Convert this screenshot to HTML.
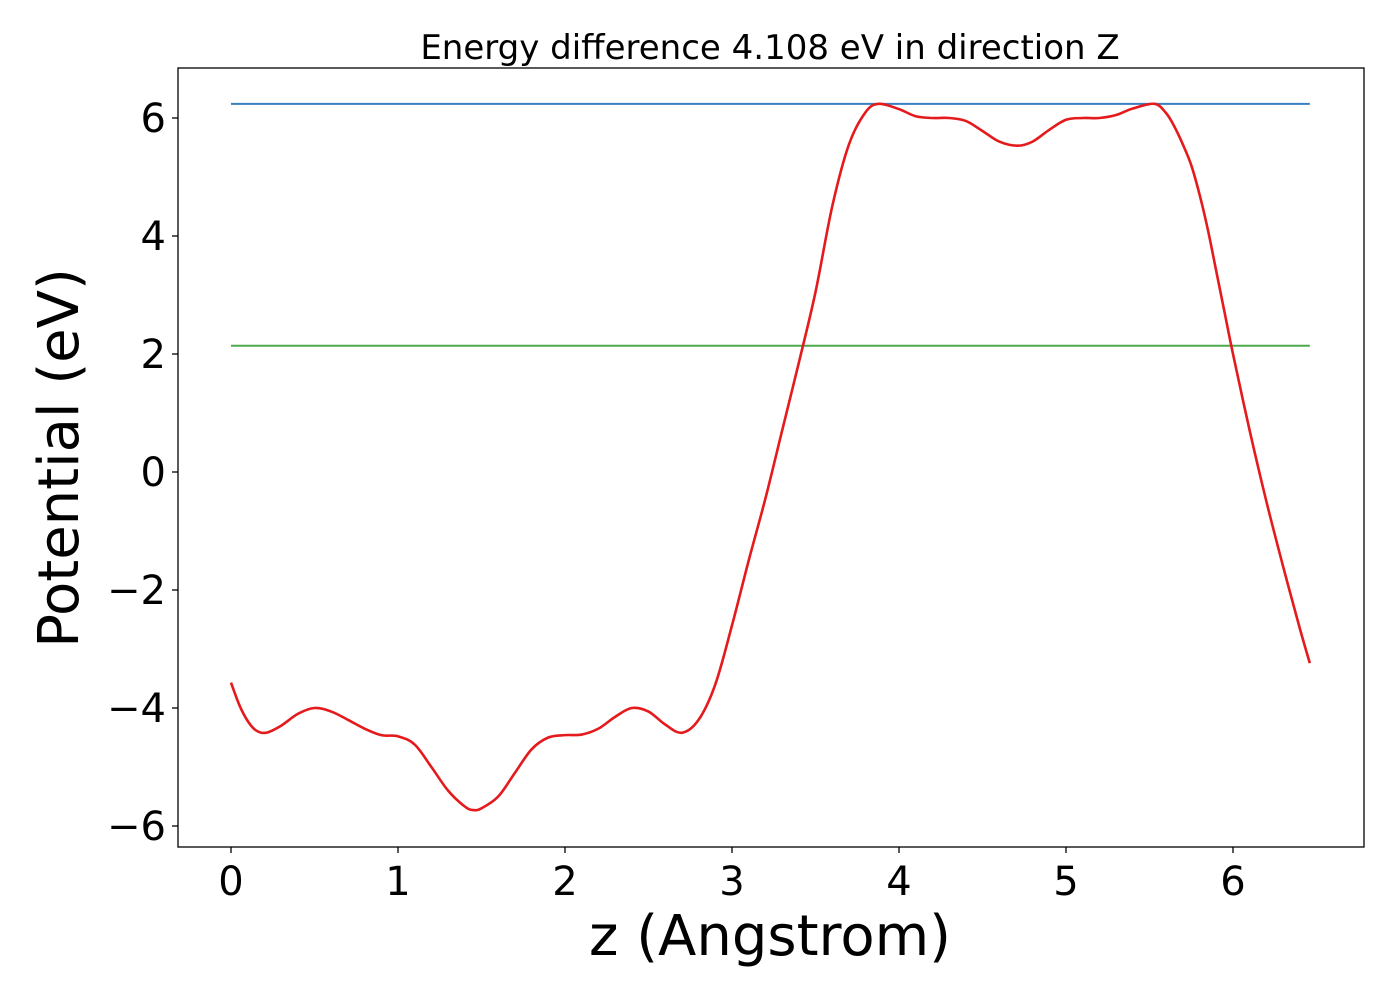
<!DOCTYPE html>
<html><head><meta charset="utf-8"><style>
body{margin:0;background:#fff;}
svg text{font-family:"DejaVu Sans","Liberation Sans",sans-serif;fill:#000;}
</style></head><body>
<svg id="chart" width="1400" height="1000" xmlns="http://www.w3.org/2000/svg">
<text x="770" y="59" font-size="34" text-anchor="middle">Energy difference 4.108 eV in direction Z</text>
<g id="ticks"></g>
<g id="lines"></g>
<rect x="178" y="68" width="1186" height="779" fill="none" stroke="#000" stroke-width="1.3"/>
<text x="770" y="955" font-size="56" text-anchor="middle">z (Angstrom)</text>
<text transform="translate(78,458) rotate(-90)" font-size="56" text-anchor="middle">Potential (eV)</text>
</svg>
<script>
const zVals=[0,0.05,0.1,0.15,0.21,0.3,0.4,0.5,0.6,0.7,0.8,0.9,1.0,1.1,1.2,1.3,1.4,1.45,1.5,1.6,1.7,1.8,1.9,2.0,2.1,2.2,2.3,2.4,2.5,2.6,2.7,2.8,2.9,3.0,3.1,3.2,3.3,3.4,3.5,3.6,3.7,3.8,3.88,4.0,4.1,4.2,4.3,4.4,4.5,4.6,4.71,4.8,4.9,5.0,5.1,5.2,5.3,5.4,5.53,5.6,5.65,5.7,5.75,5.8,5.85,5.9,5.95,6.0,6.1,6.2,6.3,6.4,6.46];
const potential=[-3.57,-3.95,-4.22,-4.38,-4.42,-4.3,-4.1,-4.0,-4.06,-4.2,-4.35,-4.46,-4.48,-4.62,-5.0,-5.4,-5.67,-5.73,-5.7,-5.5,-5.1,-4.7,-4.5,-4.46,-4.45,-4.35,-4.15,-4.0,-4.06,-4.28,-4.42,-4.2,-3.6,-2.6,-1.5,-0.45,0.7,1.85,3.05,4.5,5.55,6.1,6.24,6.15,6.03,6.0,6.0,5.95,5.78,5.6,5.53,5.6,5.8,5.97,6.0,6.0,6.05,6.16,6.24,6.08,5.85,5.55,5.2,4.7,4.1,3.4,2.7,2.0,0.7,-0.5,-1.6,-2.65,-3.24];
const xTicks=[0,1,2,3,4,5,6];
const yTicks=[-6,-4,-2,0,2,4,6];
const yTickLabels=["\u22126","\u22124","\u22122","0","2","4","6"];
const vacuumLevel=6.24;
const fermiLevel=2.14;
const zRange=[0,6.46];
const NS="http://www.w3.org/2000/svg";
const xs=z=>231+z*167;
const ys=v=>472-v*59;
const tg=document.getElementById('ticks'), lg=document.getElementById('lines');
function mk(tag,attrs,parent){const e=document.createElementNS(NS,tag);for(const k in attrs)e.setAttribute(k,attrs[k]);parent.appendChild(e);return e;}
xTicks.forEach(t=>{
  const l=mk('line',{x1:xs(t),x2:xs(t),y1:847,y2:853,stroke:'#000','stroke-width':1.3},tg);
  
  
  const tx=mk('text',{x:xs(t),y:895,'font-size':40,'text-anchor':'middle'},tg);
  tx.textContent=t;
  
  
});
yTicks.forEach((t,i)=>{
  const l=mk('line',{x1:172,x2:178,y1:ys(t),y2:ys(t),stroke:'#000','stroke-width':1.3},tg);
  
  
  const tx=mk('text',{x:166,y:ys(t)+14,'font-size':40,'text-anchor':'end'},tg);
  tx.textContent=yTickLabels[i];
  
  
});
const vac=mk('line',{x1:xs(zRange[0]),x2:xs(zRange[1]),y1:ys(vacuumLevel),y2:ys(vacuumLevel),stroke:'#3a7fc1','stroke-width':2},lg);


const fer=mk('line',{x1:xs(zRange[0]),x2:xs(zRange[1]),y1:ys(fermiLevel),y2:ys(fermiLevel),stroke:'#4caa4a','stroke-width':2},lg);


const P=zVals.map((z,i)=>[xs(z),ys(potential[i])]);
let d='M'+P[0][0]+','+P[0][1];
for(let i=0;i<P.length-1;i++){
  const p0=P[Math.max(0,i-1)],p1=P[i],p2=P[i+1],p3=P[Math.min(P.length-1,i+2)];
  const c1=[p1[0]+(p2[0]-p0[0])/6,p1[1]+(p2[1]-p0[1])/6];
  const c2=[p2[0]-(p3[0]-p1[0])/6,p2[1]-(p3[1]-p1[1])/6];
  d+=`C${c1[0]},${c1[1]} ${c2[0]},${c2[1]} ${p2[0]},${p2[1]}`;
}
const pl=mk('path',{d:d,fill:'none',stroke:'#e41a1c','stroke-width':2.6},lg);


</script>
</body></html>
